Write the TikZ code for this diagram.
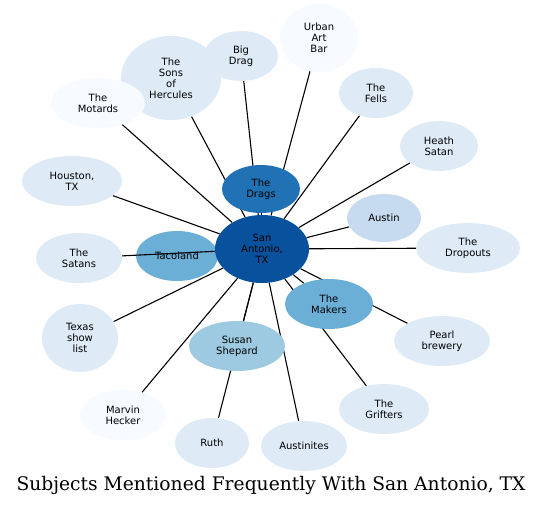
\documentclass[tikz,border=0pt]{standalone}
\usepackage{fontspec}
\newfontfamily\dv{DejaVu Sans}
\newfontfamily\dvs{DejaVu Serif}
\usetikzlibrary{shapes.geometric}
\definecolor{cA}{HTML}{08519C}
\definecolor{cB}{HTML}{2171B5}
\definecolor{cC}{HTML}{6BAED6}
\definecolor{cD}{HTML}{9ECAE1}
\definecolor{cE}{HTML}{C6DBEF}
\definecolor{cF}{HTML}{DEEBF7}
\definecolor{cG}{HTML}{F7FBFF}
\pgfdeclarelayer{bg}
\pgfdeclarelayer{fg}
\pgfsetlayers{bg,main,fg}
\tikzset{
  nd/.style={ellipse, draw=none, inner sep=0pt, align=center, text=black,
    font=\dv\fontsize{10}{11}\selectfont},
  sz/.style n args={2}{minimum width=#1pt, minimum height=#2pt},
  edge/.style={line width=1.1pt, black}
}
\begin{document}
\begin{tikzpicture}[x=1pt,y=-1pt]
\useasboundingbox (0,0) rectangle (543,506);
\begin{pgfonlayer}{fg}
\node[nd, fill=cA, sz={94}{68}] (sa) at (262,249) {San\\Antonio,\\TX};
\end{pgfonlayer}
\node[nd, fill=cB, sz={78}{48}] (drags) at (261,189) {The\\Drags};
\node[nd, fill=cC, sz={82}{50}] (taco) at (177,256) {Tacoland};
\node[nd, fill=cC, sz={88}{50}] (makers) at (329,304) {The\\Makers};
\node[nd, fill=cD, sz={96}{50}] (susan) at (237,346) {Susan\\Shepard};
\node[nd, fill=cE, sz={74}{48}] (austin) at (384,218) {Austin};
\node[nd, fill=cF, sz={74}{50}] (bigdrag) at (241,56) {Big\\Drag};
\node[nd, fill=cF, sz={100}{84}] (sons) at (171,78) {The\\Sons\\of\\Hercules};
\node[nd, fill=cG, sz={94}{50}] (motards) at (98,103) {The\\Motards};
\node[nd, fill=cF, sz={100}{50}] (houston) at (72,181) {Houston,\\TX};
\node[nd, fill=cG, sz={78}{68}] (urban) at (319,38) {Urban\\Art\\Bar};
\node[nd, fill=cF, sz={74}{50}] (fells) at (376,93) {The\\Fells};
\node[nd, fill=cF, sz={78}{50}] (heath) at (439,146) {Heath\\Satan};
\node[nd, fill=cF, sz={104}{50}] (dropouts) at (468,248) {The\\Dropouts};
\node[nd, fill=cF, sz={86}{50}] (satans) at (79,258) {The\\Satans};
\node[nd, fill=cF, sz={76}{68}] (texas) at (80,338) {Texas\\show\\list};
\node[nd, fill=cG, sz={86}{50}] (marvin) at (123,415) {Marvin\\Hecker};
\node[nd, fill=cF, sz={74}{50}] (ruth) at (212,443) {Ruth};
\node[nd, fill=cF, sz={86}{50}] (austinites) at (304,446) {Austinites};
\node[nd, fill=cF, sz={90}{50}] (grifters) at (384,409) {The\\Grifters};
\node[nd, fill=cF, sz={96}{50}] (pearl) at (442,341) {Pearl\\brewery};
\begin{pgfonlayer}{bg}
\fill[white] (0,0) rectangle (543,506);
\foreach \n in {drags,taco,makers,susan,austin,bigdrag,sons,motards,houston,urban,fells,heath,dropouts,texas,marvin,ruth,austinites,grifters,pearl}
  \draw[edge] (sa) -- (\n);
\end{pgfonlayer}
\draw[edge] (sa) -- (satans);
\node[font=\dvs\fontsize{18.7}{22}\selectfont] (title) at (271,485) {Subjects Mentioned Frequently With San Antonio, TX};
\end{tikzpicture}
\end{document}
